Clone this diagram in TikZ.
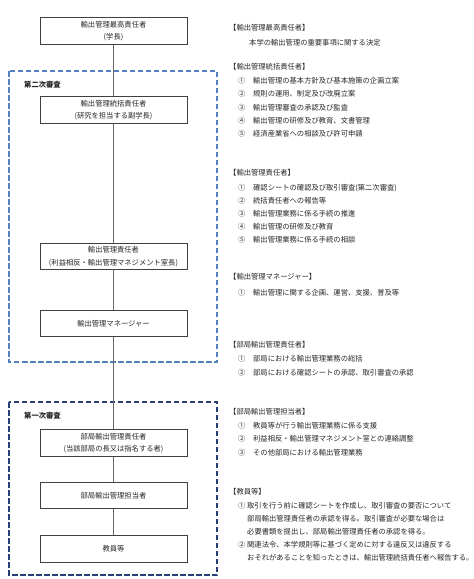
\documentclass[tikz,border=0pt]{standalone}
\usepackage{fontspec}
\newfontfamily\jpfont{Noto Sans CJK JP}
\definecolor{linkgray}{RGB}{105,105,105}
\definecolor{groupblue}{RGB}{84,130,190}
\definecolor{groupnavy}{RGB}{40,64,118}
\begin{document}
\begin{tikzpicture}[x=1pt,y=1pt,yscale=-1,
    every node/.style={font=\jpfont\fontsize{7.3}{9}\selectfont, inner sep=0pt, text=black!85},
    role/.style={draw=black!75, fill=white, line width=0.6pt, minimum width=147pt, minimum height=26.5pt,
                 align=center, font=\jpfont\fontsize{7.3}{12.5}\selectfont},
    head/.style={anchor=west},
    item/.style={anchor=west},
    link/.style={draw=linkgray, line width=1.5pt},
    group/.style={line width=1.1pt, dash pattern=on 5.5pt off 2.5pt}]
  \useasboundingbox (0,0) rectangle (474,579);

  % review groups
  \draw [group, color=groupblue] (9,71) rectangle (217,362);
  \draw [group, color=groupnavy] (9,402) rectangle (217,575);
  \node [anchor=west, font=\jpfont\bfseries\fontsize{7.3}{9}\selectfont] (second) at (24,85) {第二次審査};
  \node [anchor=west, font=\jpfont\bfseries\fontsize{7.3}{9}\selectfont] (first) at (24,416) {第一次審査};

  % roles
  \node [role] (top) at (113.5,31) {輸出管理最高責任者\\(学長)};
  \node [role] (tokatsu) at (113.5,110) {輸出管理統括責任者\\(研究を担当する副学長)};
  \node [role] (sekinin) at (113.5,256.5) {輸出管理責任者\\(利益相反・輸出管理マネジメント室長)};
  \node [role] (manager) at (113.5,323.5) {輸出管理マネージャー};
  \node [role] (bsekinin) at (113.5,443) {部局輸出管理責任者\\(当該部局の長又は指名する者)};
  \node [role] (btanto) at (113.5,495.5) {部局輸出管理担当者};
  \node [role] (kyoin) at (113.5,549) {教員等};

  \foreach \a/\b in {top/tokatsu, tokatsu/sekinin, sekinin/manager, manager/bsekinin, bsekinin/btanto, btanto/kyoin}
    \draw [link] (\a) -- (\b);

  % duties
  \node [head] (h1) at (229,28) {【輸出管理最高責任者】};
  \node [item] (d11) at (249,43) {本学の輸出管理の重要事項に関する決定};

  \node [head] (h2) at (229,67) {【輸出管理統括責任者】};
  \node [item] (d21) at (238,81) {\makebox[15pt][l]{①}輸出管理の基本方針及び基本施策の企画立案};
  \node [item] (d22) at (238,94) {\makebox[15pt][l]{②}規則の運用、制定及び改廃立案};
  \node [item] (d23) at (238,108) {\makebox[15pt][l]{③}輸出管理審査の承認及び監査};
  \node [item] (d24) at (238,121) {\makebox[15pt][l]{④}輸出管理の研修及び教育、文書管理};
  \node [item] (d25) at (238,134) {\makebox[15pt][l]{⑤}経済産業省への相談及び許可申請};

  \node [head] (h3) at (229,173) {【輸出管理責任者】};
  \node [item] (d31) at (238,188) {\makebox[15pt][l]{①}確認シートの確認及び取引審査(第二次審査)};
  \node [item] (d32) at (238,201) {\makebox[15pt][l]{②}統括責任者への報告等};
  \node [item] (d33) at (238,214) {\makebox[15pt][l]{③}輸出管理業務に係る手続の推進};
  \node [item] (d34) at (238,227) {\makebox[15pt][l]{④}輸出管理の研修及び教育};
  \node [item] (d35) at (238,240) {\makebox[15pt][l]{⑤}輸出管理業務に係る手続の相談};

  \node [head] (h4) at (229,277) {【輸出管理マネージャー】};
  \node [item] (d41) at (238,293) {\makebox[15pt][l]{①}輸出管理に関する企画、運営、支援、普及等};

  \node [head] (h5) at (229,345) {【部局輸出管理責任者】};
  \node [item] (d51) at (238,359) {\makebox[15pt][l]{①}部局における輸出管理業務の総括};
  \node [item] (d52) at (238,373) {\makebox[15pt][l]{②}部局における確認シートの承認、取引審査の承認};

  \node [head] (h6) at (229,412) {【部局輸出管理担当者】};
  \node [item] (d61) at (238,426) {\makebox[15pt][l]{①}教員等が行う輸出管理業務に係る支援};
  \node [item] (d62) at (238,439) {\makebox[15pt][l]{②}利益相反・輸出管理マネジメント室との連絡調整};
  \node [item] (d63) at (238,453) {\makebox[15pt][l]{③}その他部局における輸出管理業務};

  \node [head] (h7) at (229,492) {【教員等】};
  \node [item] (d71) at (238,506) {\makebox[9pt][l]{①}取引を行う前に確認シートを作成し、取引審査の要否について};
  \node [item] (d72) at (247,519) {部局輸出管理責任者の承認を得る。取引審査が必要な場合は};
  \node [item] (d73) at (247,532) {必要書類を提出し、部局輸出管理責任者の承認を得る。};
  \node [item] (d74) at (238,545) {\makebox[9pt][l]{②}関連法令、本学規則等に基づく定めに対する違反又は違反する};
  \node [item] (d75) at (247,558) {おそれがあることを知ったときは、輸出管理統括責任者へ報告する。};
\end{tikzpicture}
\end{document}
